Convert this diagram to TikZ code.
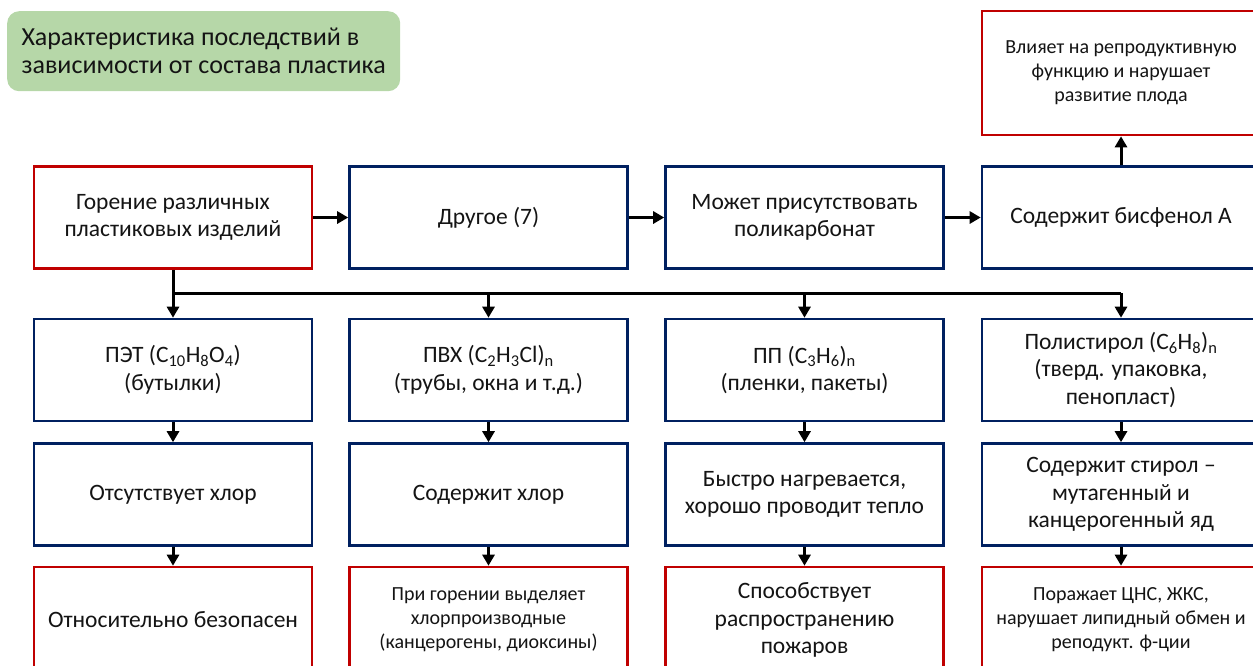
\documentclass[tikz,border=0pt]{standalone}
\usepackage{fontspec}
\setmainfont{Carlito}
\usetikzlibrary{arrows.meta,positioning}
\definecolor{boxred}{HTML}{C00000}
\definecolor{boxblue}{HTML}{002060}
\definecolor{titlegreen}{HTML}{B6D7A8}
\definecolor{txt}{HTML}{141414}
\tikzset{
  box/.style={draw, line width=2.6pt, fill=white, minimum width=278pt, minimum height=102pt,
     align=center, text=txt, inner sep=2pt, font=\fontsize{23.5}{27.5}\selectfont},
  bluebox/.style={box, draw=boxblue},
  redbox/.style={box, draw=boxred},
  smalltext/.style={font=\fontsize{20}{24}\selectfont},
  arr/.style={line width=3pt, -{Triangle[length=11pt,width=12pt]}},
  plain/.style={line width=3pt}
}
\begin{document}
\begin{tikzpicture}[x=1pt,y=-1pt]
\useasboundingbox (0,0) rectangle (1253,665);
\clip (0,0) rectangle (1253,665);
% title
\node[fill=titlegreen, rounded corners=12pt, minimum width=393pt, minimum height=80pt, anchor=north west,
      align=left, text=txt, font=\fontsize{26}{28}\selectfont, inner xsep=13pt] (title) at (7,11)
  {Характеристика последствий в\\зависимости от состава пластика};
% row 1
\node[redbox] (burn) at (173,217.5) {Горение различных\\пластиковых изделий};
\node[bluebox] (other) at (488.5,217.5) {Другое (7)};
\node[bluebox] (pc) at (804.5,217.5) {Может присутствовать\\поликарбонат};
\node[bluebox] (bpa) at (1121,217.5) {Содержит бисфенол А};
\node[redbox, smalltext, minimum height=124pt] (repro) at (1121,73) {Влияет на репродуктивную\\функцию и нарушает\\развитие плода};
% row 2
\node[bluebox] (pet) at (173,370) {ПЭТ (C\textsubscript{10}H\textsubscript{8}O\textsubscript{4})\\(бутылки)};
\node[bluebox] (pvc) at (488.5,370) {ПВХ (C\textsubscript{2}H\textsubscript{3}Cl)\textsubscript{n}\\(трубы, окна и т.д.)};
\node[bluebox] (pp) at (804.5,370) {ПП (C\textsubscript{3}H\textsubscript{6})\textsubscript{n}\\(пленки, пакеты)};
\node[bluebox] (ps) at (1121,370) {Полистирол (C\textsubscript{6}H\textsubscript{8})\textsubscript{n}\\(тверд. упаковка,\\пенопласт)};
% row 3
\node[bluebox] (nocl) at (173,494.5) {Отсутствует хлор};
\node[bluebox] (cl) at (488.5,494.5) {Содержит хлор};
\node[bluebox] (heat) at (804.5,494.5) {Быстро нагревается,\\хорошо проводит тепло};
\node[bluebox] (styr) at (1121,494.5) {Содержит стирол –\\мутагенный и\\канцерогенный яд};
% row 4
\node[redbox, minimum height=106pt] (safe) at (173,620) {Относительно безопасен};
\node[redbox, smalltext, minimum height=106pt] (diox) at (488.5,620) {При горении выделяет\\хлорпроизводные\\(канцерогены, диоксины)};
\node[redbox, minimum height=106pt] (fire) at (804.5,620) {Способствует\\распространению\\пожаров};
\node[redbox, smalltext, minimum height=106pt] (cns) at (1121,620) {Поражает ЦНС, ЖКС,\\нарушает липидный обмен и\\реподукт. ф-ции};
% connectors row 1
\draw[arr] (burn) -- (other);
\draw[arr] (other) -- (pc);
\draw[arr] (pc) -- (bpa);
\draw[arr] (bpa) -- (repro);
% bus
\coordinate (bus) at (173,293);
\draw[arr] (burn.south) -- (pet.north);
\draw[plain] (bus) -- (bus -| ps.north);
\draw[arr] (bus -| pvc.north) -- (pvc.north);
\draw[arr] (bus -| pp.north) -- (pp.north);
\draw[arr] (bus -| ps.north) -- (ps.north);
% columns
\draw[arr] (pet) -- (nocl);
\draw[arr] (pvc) -- (cl);
\draw[arr] (pp) -- (heat);
\draw[arr] (ps) -- (styr);
\draw[arr] (nocl) -- (safe);
\draw[arr] (cl) -- (diox);
\draw[arr] (heat) -- (fire);
\draw[arr] (styr) -- (cns);
\end{tikzpicture}
\end{document}
